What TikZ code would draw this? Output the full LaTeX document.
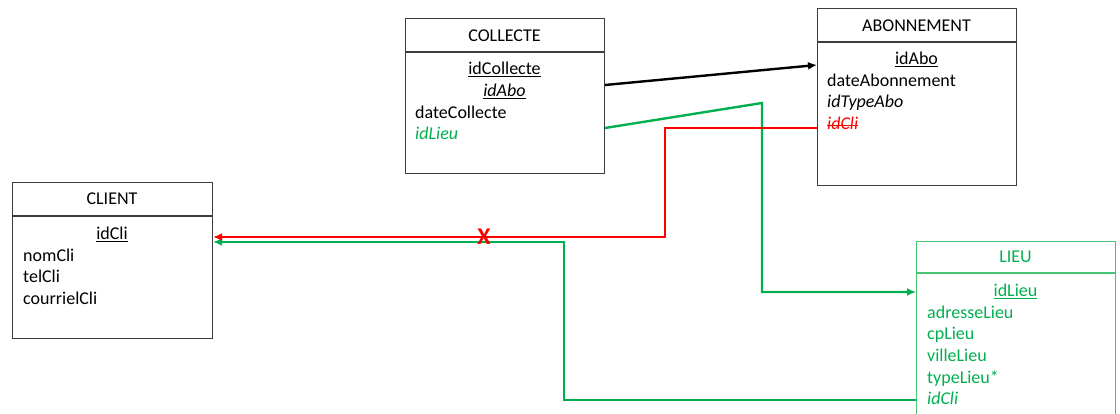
\documentclass[tikz,border=0pt]{standalone}
\usepackage{fontspec}
\setmainfont{Carlito}
\usetikzlibrary{arrows.meta}
\definecolor{vert}{RGB}{0,176,80}
\definecolor{vertclair}{RGB}{70,195,115}
\definecolor{rouge}{RGB}{255,0,0}
\definecolor{cadre}{RGB}{60,60,60}
\tikzset{
  tbl/.style={draw=cadre, line width=1.1pt, inner sep=0pt, anchor=north west},
  hdr/.style={anchor=base, inner sep=0pt, font=\fontsize{18}{22}\selectfont},
  attr/.style={anchor=base west, inner sep=0pt, font=\fontsize{18}{22}\selectfont},
  key/.style={anchor=base, inner sep=0pt, font=\fontsize{18}{22}\selectfont},
  lien/.style={line width=2.4pt},
  tip/.style={-{Latex[length=9pt,width=8pt]}},
}
\begin{document}
\begin{tikzpicture}[x=1pt,y=-1pt]
\useasboundingbox (0,0) rectangle (1120,414);
\clip (0,0) rectangle (1120,414);
\fill[white] (0,0) rectangle (1120,414);
% COLLECTE
\node[tbl, minimum width=199pt, minimum height=155pt] (collecte) at (405,18) {};
\draw[cadre, line width=1.1pt] (collecte.north west |- 0,52) -- (collecte.north east |- 0,52);
\node[hdr] (collecteH) at (504.5,42) {COLLECTE};
\node[key] (c1) at (504.5,75) {\underline{idCollecte}};
\node[key] (c2) at (504.5,97) {\underline{\textit{idAbo}}};
\node[attr] (c3) at (415,118.5) {dateCollecte};
\node[attr, text=vert] (c4) at (415,140) {\textit{idLieu}};
% ABONNEMENT
\node[tbl, minimum width=199pt, minimum height=177pt] (abo) at (817,8) {};
\draw[cadre, line width=1.1pt] (abo.north west |- 0,42) -- (abo.north east |- 0,42);
\node[hdr] (aboH) at (916.5,32) {ABONNEMENT};
\node[key] (a1) at (916.5,65) {\underline{idAbo}};
\node[attr] (a2) at (827,86.5) {dateAbonnement};
\node[attr] (a3) at (827,108) {\textit{idTypeAbo}};
\node[attr, text=rouge] (a4) at (827,130) {\textit{idCli}};
\draw[rouge, line width=1pt] ([yshift=4.5pt]a4.base west) -- ([yshift=4.5pt]a4.base east);
% CLIENT
\node[tbl, minimum width=200pt, minimum height=156pt] (client) at (12,182) {};
\draw[cadre, line width=1.1pt] (client.north west |- 0,216) -- (client.north east |- 0,216);
\node[hdr] (clientH) at (112,205) {CLIENT};
\node[key] (k1) at (112,240) {\underline{idCli}};
\node[attr] (k2) at (23,261.5) {nomCli};
\node[attr] (k3) at (23,283) {telCli};
\node[attr] (k4) at (23,304.5) {courrielCli};
% LIEU
\node[tbl, draw=vertclair, minimum width=199pt, minimum height=200pt] (lieu) at (916,241) {};
\draw[vertclair, line width=1.1pt] (lieu.north west |- 0,273) -- (lieu.north east |- 0,273);
\node[hdr, text=vert] (lieuH) at (1015.5,263) {LIEU};
\node[key, text=vert] (l1) at (1015.5,297) {\underline{idLieu}};
\node[attr, text=vert] (l2) at (927,318.5) {adresseLieu};
\node[attr, text=vert] (l3) at (927,340) {cpLieu};
\node[attr, text=vert] (l4) at (927,361.5) {villeLieu};
\node[attr, text=vert] (l5) at (927,383) {typeLieu*};
\node[attr, text=vert] (l6) at (927,404.5) {\textit{idCli}};
% attach points
\coordinate (pColAbo) at (collecte.east |- 0,85);
\coordinate (pAboIn) at (abo.west |- 0,65);
\coordinate (pColLieu) at (collecte.east |- 0,128);
\coordinate (pLieuIn) at (lieu.west |- 0,292);
\coordinate (pAboCli) at (abo.west |- 0,128);
\coordinate (pCliRed) at (client.east |- 0,237);
\coordinate (pCliGreen) at (client.east |- 0,242);
\coordinate (pLieuCli) at (lieu.west |- 0,400);
% connectors
\draw[lien, tip, black] (pColAbo) -- (pAboIn);
\draw[lien, tip, vert] (pColLieu) -- (762,103) -- (762,292) -- (pLieuIn);
\draw[lien, tip, vert] (pLieuCli) -- (564,400) -- (564,242) -- (pCliGreen);
\draw[lien, tip, rouge] (pAboCli) -- (665,128) -- (665,237) -- (pCliRed);
\node[text=rouge, inner sep=0pt, font=\fontsize{24}{26}\bfseries] (croix) at (484,237) {X};
\end{tikzpicture}
\end{document}
